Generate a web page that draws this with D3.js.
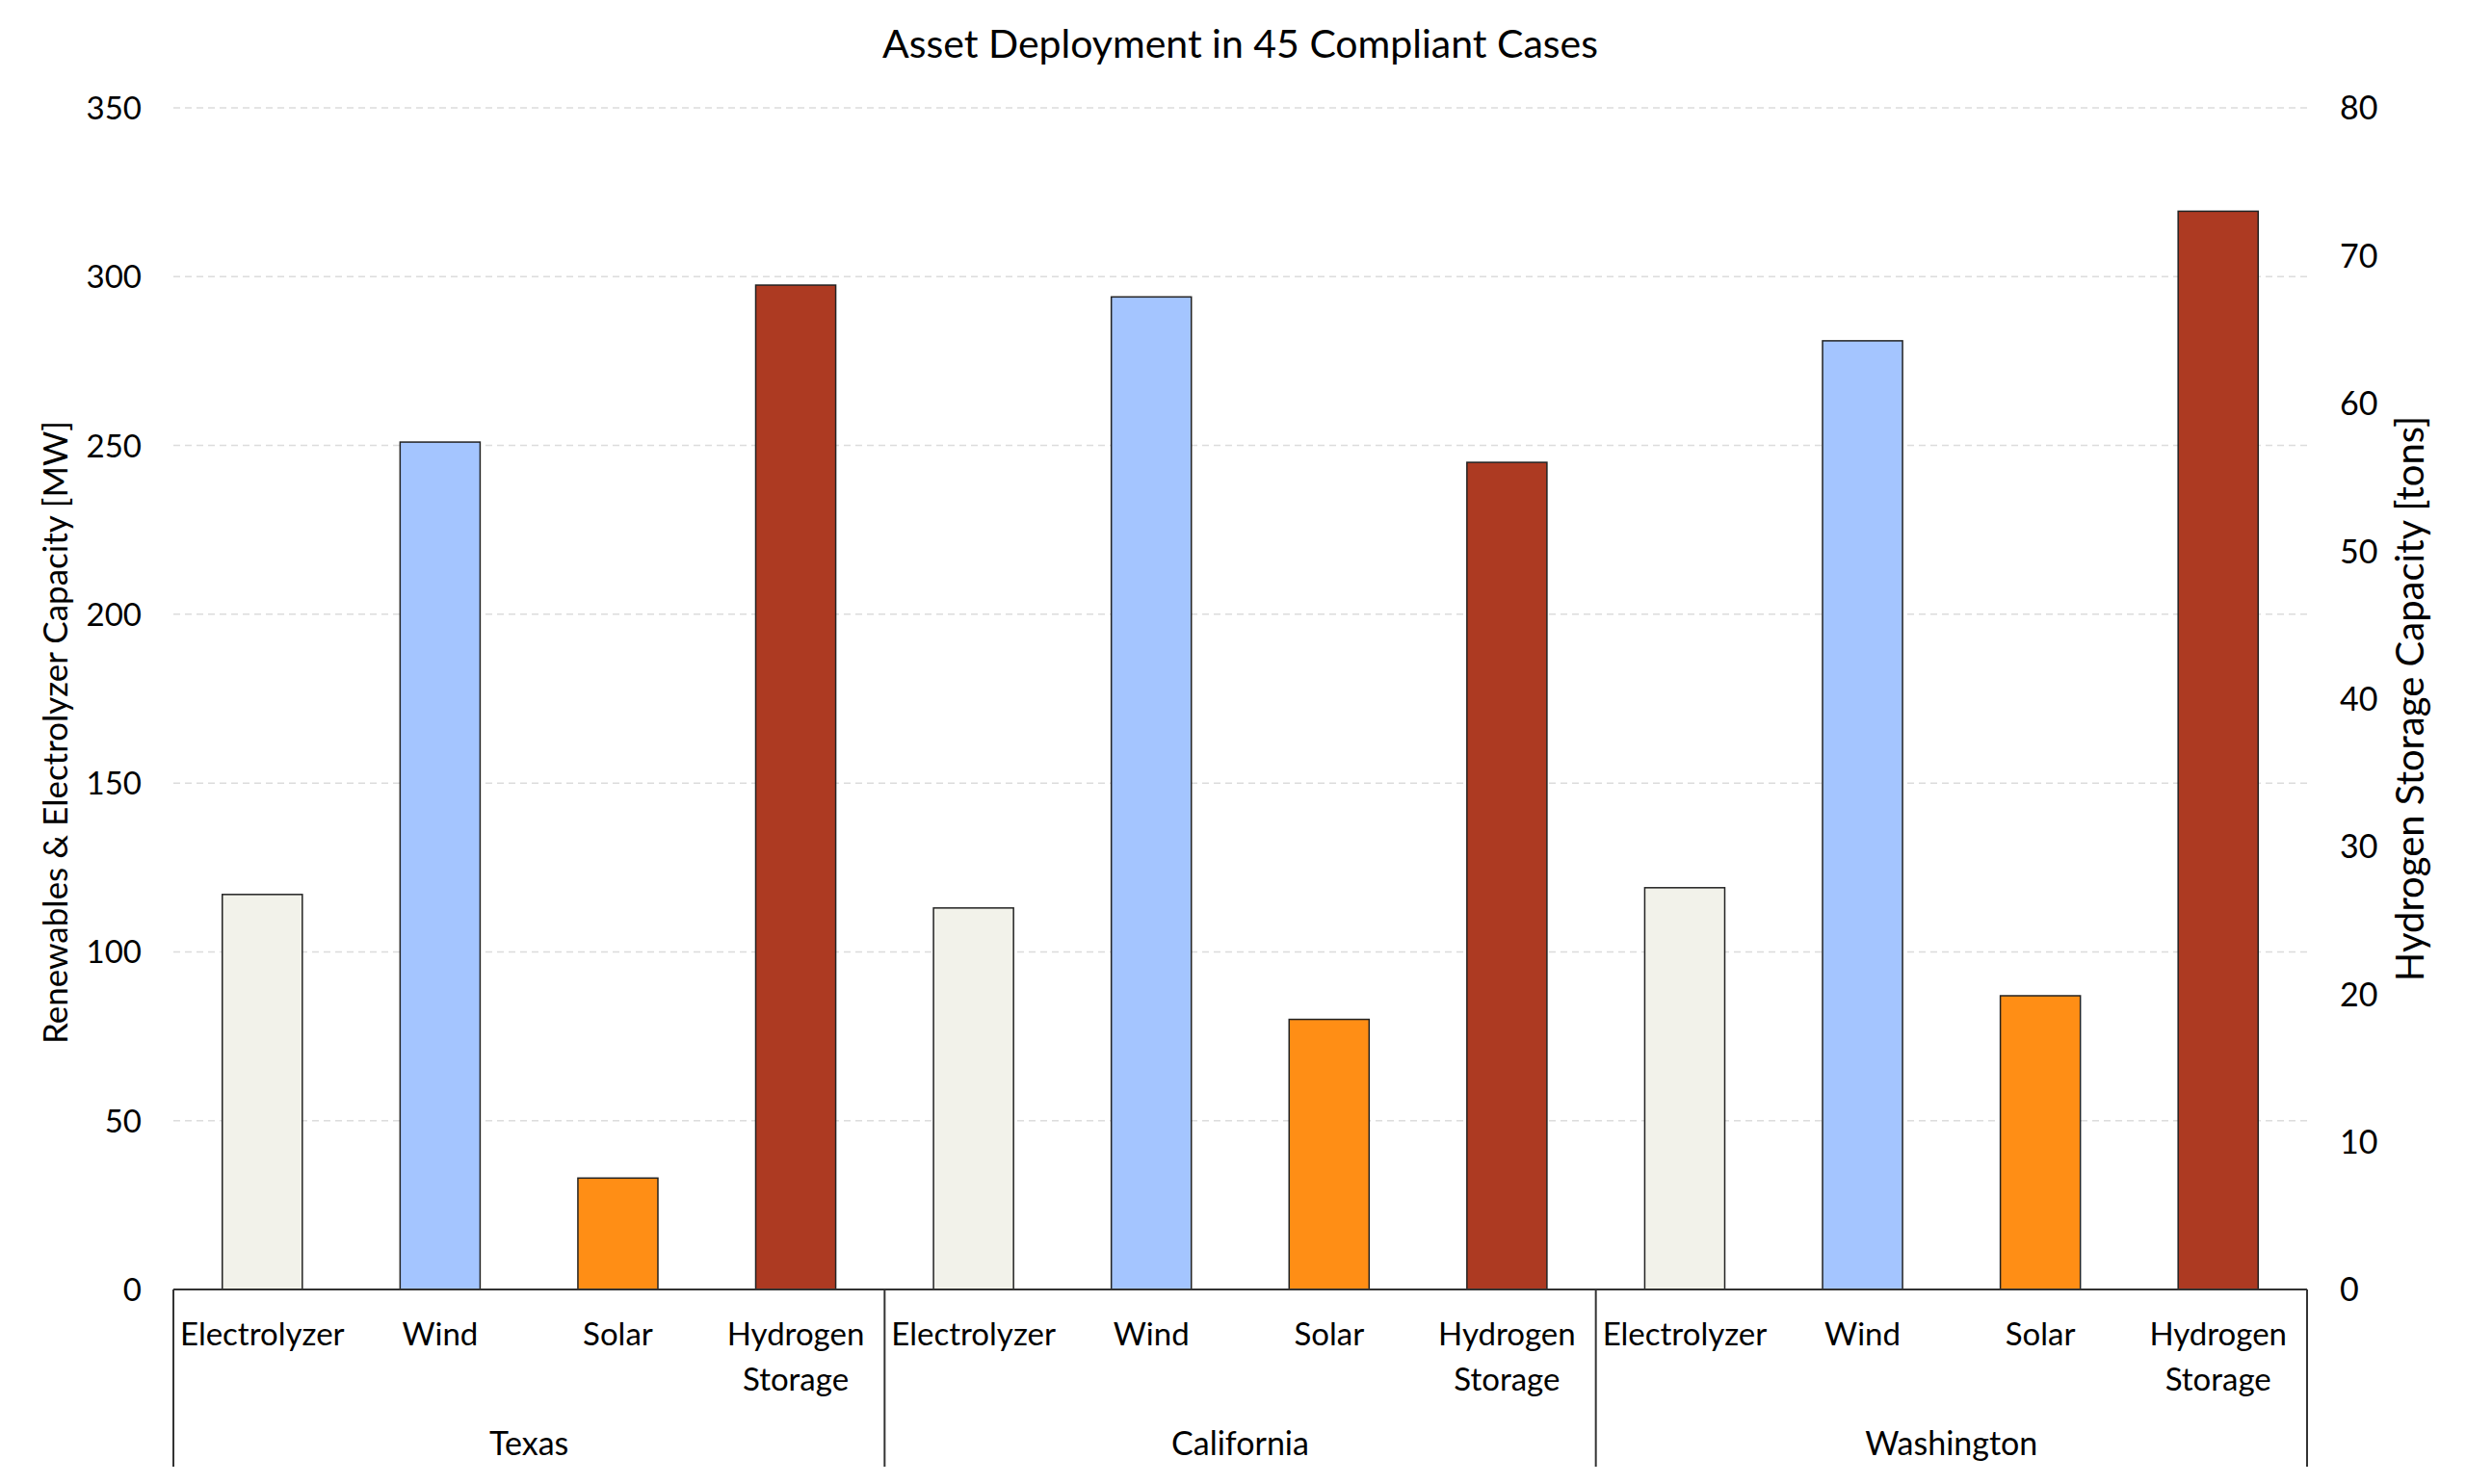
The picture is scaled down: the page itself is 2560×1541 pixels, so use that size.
<!DOCTYPE html>
<html>
<head>
<meta charset="utf-8">
<script src="https://cdn.jsdelivr.net/npm/d3@7"></script>
<style>
  body { margin: 0; background: #fff; }
  text { font-family: Lato, "Noto Sans", sans-serif; fill: #000; }
</style>
</head>
<body>
<script>
const width = 2560;
const height = 1541;

// data
const states = ["Texas", "California", "Washington"];
const assets = ["Electrolyzer", "Wind", "Solar", "Hydrogen Storage"];
const electrolyzerMW = [117, 113, 119];
const windMW = [251, 294, 281];
const solarMW = [33, 80, 87];
const hydrogenTons = [68, 56, 73];
const leftTicks = [0, 50, 100, 150, 200, 250, 300, 350];
const rightTicks = [0, 10, 20, 30, 40, 50, 60, 70, 80];
const colors = ["#f2f2ea", "#a4c5ff", "#ff8e15", "#ad3a22"];

const margin = { top: 112, right: 165, bottom: 202, left: 180 };
const plotW = width - margin.left - margin.right;
const plotH = height - margin.top - margin.bottom;

const svg = d3.select("body").append("svg")
  .attr("width", width)
  .attr("height", height);

const g = svg.append("g").attr("transform", `translate(${margin.left},${margin.top})`);

const x0 = d3.scaleBand().domain(states).range([0, plotW]);
const x1 = d3.scaleBand().domain(assets).range([0, x0.bandwidth()]).paddingInner(0.55).paddingOuter(0.275);
const yLeft = d3.scaleLinear().domain([0, 350]).range([plotH, 0]);
const yRight = d3.scaleLinear().domain([0, 80]).range([plotH, 0]);

// build rows: each bar knows which axis it belongs to
const rows = [];
states.forEach((s, i) => {
  rows.push({ state: s, asset: assets[0], value: electrolyzerMW[i], axis: "left" });
  rows.push({ state: s, asset: assets[1], value: windMW[i], axis: "left" });
  rows.push({ state: s, asset: assets[2], value: solarMW[i], axis: "left" });
  rows.push({ state: s, asset: assets[3], value: hydrogenTons[i], axis: "right" });
});

// gridlines (left axis only)
g.append("g").selectAll("line")
  .data(leftTicks.filter(d => d > 0))
  .join("line")
  .attr("x1", 0).attr("x2", plotW)
  .attr("y1", d => yLeft(d)).attr("y2", d => yLeft(d))
  .attr("stroke", "#dcdcdc")
  .attr("stroke-width", 1.5)
  .attr("stroke-dasharray", "7,5");

// bars
g.append("g").selectAll("rect")
  .data(rows)
  .join("rect")
  .attr("x", d => x0(d.state) + x1(d.asset))
  .attr("width", x1.bandwidth())
  .attr("y", d => (d.axis === "left" ? yLeft : yRight)(d.value))
  .attr("height", d => plotH - (d.axis === "left" ? yLeft : yRight)(d.value))
  .attr("fill", d => colors[assets.indexOf(d.asset)])
  .attr("stroke", "#222")
  .attr("stroke-width", 1.5);

// left axis
const leftAxis = g.append("g").call(d3.axisLeft(yLeft).tickValues(leftTicks).tickSize(0).tickPadding(33));
leftAxis.select(".domain").remove();
leftAxis.selectAll("text").attr("font-size", 33).style("font-family", "Lato, sans-serif").attr("dy", "0.35em");

// right axis
const rightAxis = g.append("g").attr("transform", `translate(${plotW},0)`)
  .call(d3.axisRight(yRight).tickValues(rightTicks).tickSize(0).tickPadding(34));
rightAxis.select(".domain").remove();
rightAxis.selectAll("text").attr("font-size", 34).style("font-family", "Lato, sans-serif").attr("dy", "0.35em");

// bottom axis line
g.append("line")
  .attr("x1", 0).attr("x2", plotW)
  .attr("y1", plotH).attr("y2", plotH)
  .attr("stroke", "#333").attr("stroke-width", 2);

// group separators
const seps = states.map(s => x0(s)).concat([plotW]);
g.append("g").selectAll("line")
  .data(seps)
  .join("line")
  .attr("x1", d => d).attr("x2", d => d)
  .attr("y1", plotH).attr("y2", plotH + 184)
  .attr("stroke", "#333").attr("stroke-width", 2);

// asset labels
const lab = g.append("g").selectAll("text")
  .data(rows)
  .join("text")
  .attr("text-anchor", "middle")
  .attr("font-size", 33)
  .attr("x", d => x0(d.state) + x1(d.asset) + x1.bandwidth() / 2)
  .attr("y", plotH + 58);
lab.each(function(d) {
  const words = d.asset === "Hydrogen Storage" ? ["Hydrogen", "Storage"] : [d.asset];
  d3.select(this).selectAll("tspan")
    .data(words)
    .join("tspan")
    .attr("x", d3.select(this).attr("x"))
    .attr("dy", (w, i) => i === 0 ? 0 : 47)
    .text(w => w);
});

// state labels
g.append("g").selectAll("text")
  .data(states)
  .join("text")
  .attr("text-anchor", "middle")
  .attr("font-size", 34)
  .attr("x", d => x0(d) + x0.bandwidth() / 2)
  .attr("y", plotH + 172)
  .text(d => d);

// title
svg.append("text")
  .attr("x", margin.left + plotW / 2)
  .attr("y", 60)
  .attr("text-anchor", "middle")
  .attr("font-size", 41)
  .text("Asset Deployment in 45 Compliant Cases");

// axis titles
svg.append("text")
  .attr("transform", `translate(70,${margin.top + plotH / 2 + 35}) rotate(-90)`)
  .attr("text-anchor", "middle")
  .attr("font-size", 35)
  .text("Renewables & Electrolyzer Capacity [MW]");

svg.append("text")
  .attr("transform", `translate(2516,${margin.top + plotH / 2}) rotate(-90)`)
  .attr("text-anchor", "middle")
  .attr("font-size", 40)
  .text("Hydrogen Storage Capacity [tons]");
</script>
</body>
</html>
